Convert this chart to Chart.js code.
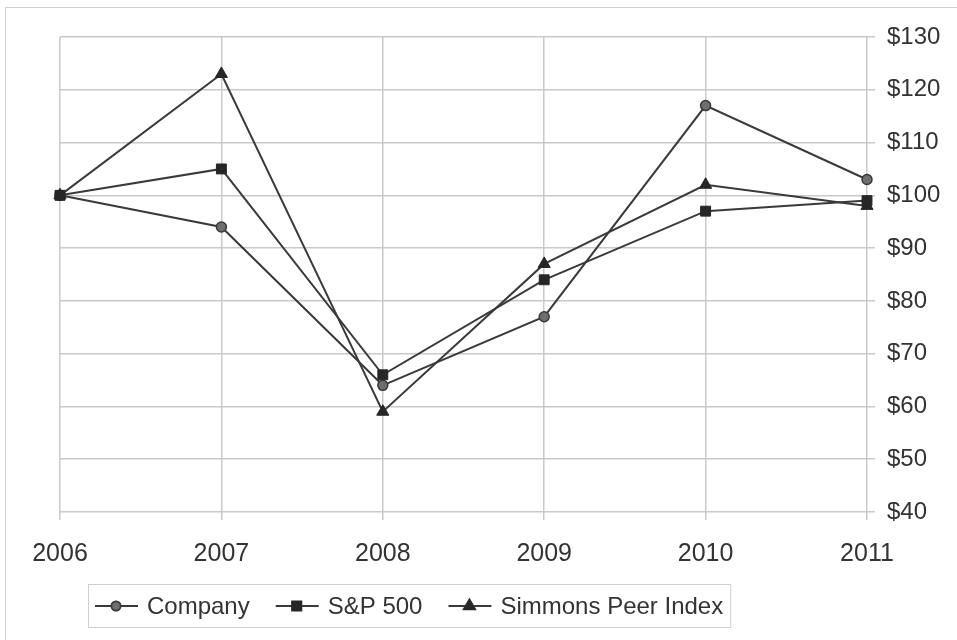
<!DOCTYPE html>
<html>
<head>
<meta charset="utf-8">
<script src="https://cdn.jsdelivr.net/npm/chart.js@4"></script>
<style>
  html, body { margin: 0; padding: 0; background: #fff; }
  #marco { position: absolute; left: 5px; top: 7px; width: 1000px; height: 700px; border: 1px solid #cfcfcf; }
  #contenedor { position: absolute; left: 0; top: 0; width: 957px; height: 640px; }
</style>
</head>
<body>
<div id="marco"></div>
<div id="contenedor"><canvas id="grafico" width="957" height="640"></canvas></div>
<script>
// Datos del gráfico
const anios = ['2006', '2007', '2008', '2009', '2010', '2011'];
const company = [100, 94, 64, 77, 117, 103];
const sp500 = [100, 105, 66, 84, 97, 99];
const simmons = [100, 123, 59, 87, 102, 98];
const yMin = 40;
const yMax = 130;
const yPaso = 10;

const fuente = '"Liberation Sans", Arial, sans-serif';
const colorTexto = '#333';
const colorLinea = '#3a3a3a';
const colorGrid = '#c9c9c9';

// Leyenda con línea + marcador, dentro de un recuadro
const leyendaPlugin = {
  id: 'leyendaCaja',
  afterDraw(chart) {
    const c = chart.ctx;
    const items = chart.data.datasets.slice().sort((a, b) => a.leyenda - b.leyenda);
    const y = 606;
    let x = 95;
    c.save();
    c.font = '24px ' + fuente;
    c.textBaseline = 'middle';
    const inicio = 88;
    items.forEach((ds, i) => {
      c.strokeStyle = colorLinea;
      c.lineWidth = 2;
      c.beginPath();
      c.moveTo(x, y);
      c.lineTo(x + 43, y);
      c.stroke();
      Chart.helpers.drawPoint(c, {
        pointStyle: ds.pointStyle,
        radius: ds.pointRadius - 0.5,
        rotation: 0,
        borderWidth: ds.pointBorderWidth
      }, x + 21, y);
      c.fillStyle = ds.pointBackgroundColor;
      c.strokeStyle = ds.pointBorderColor;
      c.lineWidth = ds.pointBorderWidth;
      c.fill();
      c.stroke();
      x += 52;
      c.fillStyle = colorTexto;
      c.fillText(ds.label, x, y + 1);
      x += c.measureText(ds.label).width;
      if (i < items.length - 1) x += 26;
    });
    c.strokeStyle = '#cfcfcf';
    c.lineWidth = 1;
    c.strokeRect(inicio + 0.5, 584.5, x + 7 - inicio, 43);
    c.restore();
  }
};

const ctx = document.getElementById('grafico').getContext('2d');

const grafico = new Chart(ctx, {
  type: 'line',
  data: {
    labels: anios,
    datasets: [
      {
        label: 'Company',
        data: company,
        leyenda: 0,
        order: 1,
        borderColor: colorLinea,
        borderWidth: 2,
        pointStyle: 'circle',
        pointRadius: 5,
        pointBackgroundColor: '#6e6e6e',
        pointBorderColor: colorLinea,
        pointBorderWidth: 1.5,
        tension: 0
      },
      {
        label: 'S&P 500',
        data: sp500,
        leyenda: 1,
        order: 0,
        borderColor: colorLinea,
        borderWidth: 2,
        pointStyle: 'rect',
        pointRadius: 7,
        pointBackgroundColor: '#262626',
        pointBorderColor: '#262626',
        pointBorderWidth: 1,
        tension: 0
      },
      {
        label: 'Simmons Peer Index',
        data: simmons,
        leyenda: 2,
        order: 2,
        borderColor: colorLinea,
        borderWidth: 2,
        pointStyle: 'triangle',
        pointRadius: 7,
        pointBackgroundColor: '#262626',
        pointBorderColor: '#262626',
        pointBorderWidth: 1,
        tension: 0
      }
    ]
  },
  options: {
    responsive: false,
    animation: false,
    clip: false,
    layout: { padding: { left: 60, top: 37, right: 0, bottom: 68 } },
    plugins: {
      legend: { display: false },
      tooltip: { enabled: false }
    },
    scales: {
      x: {
        offset: false,
        grid: { color: colorGrid, lineWidth: 1.5, tickLength: 8 },
        border: { display: false },
        ticks: {
          color: colorTexto,
          font: { family: fuente, size: 25 },
          padding: 19,
          maxRotation: 0,
          autoSkip: false
        },
        afterFit(scale) { scale.height = 60; }
      },
      y: {
        position: 'right',
        min: yMin,
        max: yMax,
        grid: { color: colorGrid, lineWidth: 1.5, tickLength: 8 },
        border: { display: false },
        ticks: {
          stepSize: yPaso,
          color: colorTexto,
          font: { family: fuente, size: 24 },
          padding: 12,
          callback: (v) => '$' + v
        },
        afterFit(scale) { scale.width = 90; }
      }
    }
  },
  plugins: [leyendaPlugin]
});
</script>
</body>
</html>
